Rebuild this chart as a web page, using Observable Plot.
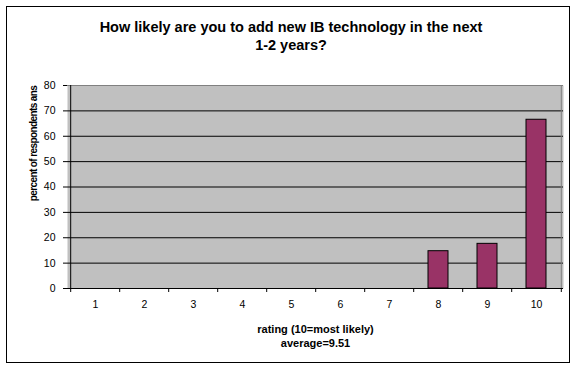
<!DOCTYPE html>
<html>
<head>
<meta charset="utf-8">
<script src="https://cdn.jsdelivr.net/npm/d3@7"></script>
<script src="https://cdn.jsdelivr.net/npm/@observablehq/plot@0.6"></script>
<style>
  html, body { margin: 0; padding: 0; background: #fff; }
  #wrap { position: relative; width: 582px; height: 374px; font-family: "Liberation Sans", Arial, sans-serif; }
  #box { position: absolute; left: 6px; top: 6px; width: 564px; height: 357px; border: 1px solid #000; box-sizing: border-box; }
  #title { position: absolute; left: 0; width: 582px; top: 18px; text-align: center; font-weight: bold; font-size: 14.5px; line-height: 18px; letter-spacing: 0px; color: #000; }
  #chart { position: absolute; left: 0; top: 0; }
</style>
</head>
<body>
<div id="wrap">
  <div id="box"></div>
  <div id="title">How likely are you to add new IB technology in the next<br>1-2 years?</div>
  <div id="chart"></div>
</div>
<script>
const categories = ["1","2","3","4","5","6","7","8","9","10"];
const percents = [0, 0, 0, 0, 0, 0, 0, 14.7, 17.6, 66.5];
const yTicks = [0, 10, 20, 30, 40, 50, 60, 70, 80];
const xTitle = "rating (10=most likely)\naverage=9.51";
const yTitle = "percent of respondents ans";

const data = categories.map((c, i) => ({rating: c, pct: percents[i]}));

const W = 582, H = 374, mL = 67, mR = 19, mT = 85, mB = 86;
const step = (W - mL - mR) / categories.length;

const chart = Plot.plot({
  width: W, height: H,
  marginLeft: mL, marginRight: mR, marginTop: mT, marginBottom: mB,
  style: {fontFamily: "'Liberation Sans', Arial, sans-serif", fontSize: "10.5px", color: "#000", background: "transparent"},
  x: {domain: categories, paddingInner: 0.6, paddingOuter: 0.3, label: null},
  y: {domain: [0, 80], label: null},
  marks: [
    Plot.frame({fill: "#c0c0c0", stroke: null}),
    Plot.ruleY(yTicks.filter(t => t > 0 && t < 80), {stroke: "#000", strokeWidth: 1}),
    Plot.ruleY([80], {stroke: "#808080"}),
    Plot.ruleX(["10"], {dx: step / 2, stroke: "#808080"}),
    Plot.barY(data.filter(d => d.pct > 0), {x: "rating", y: "pct", fill: "#993366", stroke: "#000", strokeWidth: 1}),
    Plot.ruleX(["1"], {dx: -step / 2, stroke: "#000"}),
    Plot.ruleY([0], {stroke: "#000"}),
    Plot.axisY({ticks: yTicks, tickSize: 4, tickPadding: 8, label: null, stroke: "#000"}),
    Plot.axisX({tickSize: 0, tickPadding: 12, label: null}),
    Plot.axisX({ticks: categories, tickSize: 4, text: null, dx: -step / 2, label: null, stroke: "#000"}),
    Plot.axisX({ticks: ["10"], tickSize: 4, text: null, dx: step / 2, label: null, stroke: "#000"}),
    Plot.text([xTitle], {frameAnchor: "bottom", dy: 47, lineAnchor: "middle", lineHeight: 1.3, fontWeight: "bold", fontSize: 11, fill: "#000"}),
    Plot.text([yTitle], {frameAnchor: "left", textAnchor: "middle", rotate: -90, dx: -34, dy: -43.5, fontWeight: "bold", fontSize: 10, fill: "#000"})
  ]
});
d3.select(chart).selectAll("text").filter(function() { return this.textContent === yTitle; })
  .style("letter-spacing", "-0.6px");
document.getElementById("chart").appendChild(chart);
</script>
</body>
</html>
